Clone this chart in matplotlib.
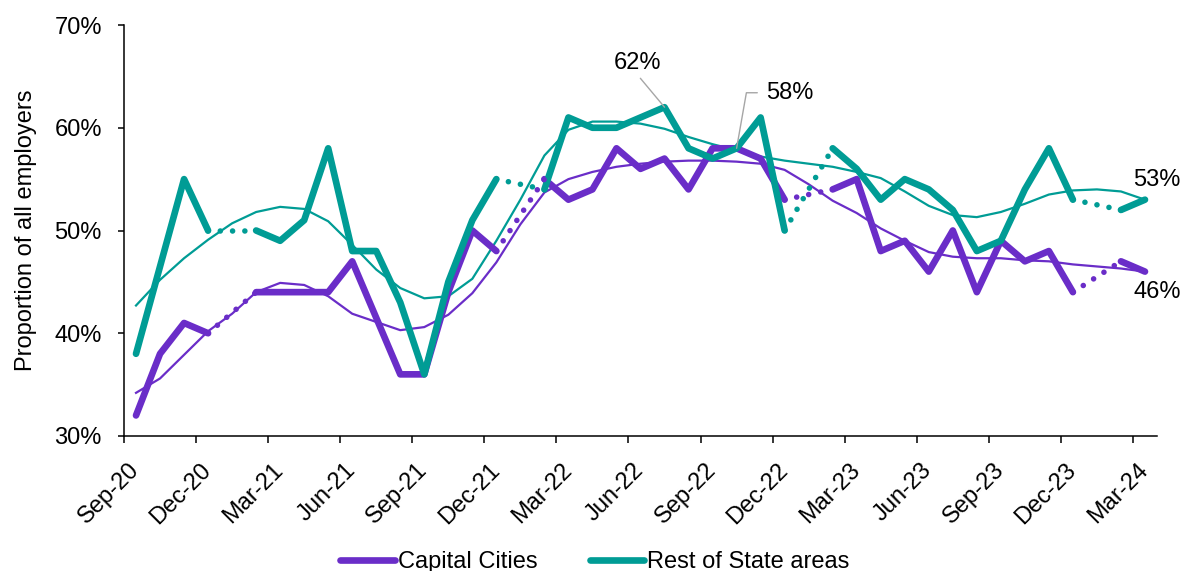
import numpy as np
import pandas as pd
import matplotlib
matplotlib.use("Agg")
import matplotlib.pyplot as plt

# months Sep-20 .. Mar-24
months = pd.date_range("2020-09-01", periods=43, freq="MS").strftime("%b-%y").tolist()

nan = np.nan
# monthly share of employers (%), January not surveyed
capital = [32, 38, 41, 40, nan, 44, 44, 44, 44, 47, 41.5, 36, 36, 44, 50, 48,
           nan, 55, 53, 54, 58, 56, 57, 54, 58, 58, 57, 53,
           nan, 54, 55, 48, 49, 46, 50, 44, 49, 47, 48, 44,
           nan, 47, 46]
rest = [38, 46.5, 55, 50, nan, 50, 49, 51, 58, 48, 48, 43, 36, 45, 51, 55,
        nan, 54, 61, 60, 60, 61, 62, 58, 57, 58, 61, 50,
        nan, 58, 56, 53, 55, 54, 52, 48, 49, 54, 58, 53,
        nan, 52, 53]

# trend lines
capital_trend = [34.2, 35.6, 37.9, 40.2, 41.9, 44.0, 44.9, 44.7, 43.6, 41.9, 41.1,
                 40.3, 40.6, 41.8, 43.9, 46.9, 50.6, 53.7, 55.0, 55.7, 56.2, 56.5,
                 56.7, 56.8, 56.8, 56.7, 56.5, 55.9, 54.5, 52.9, 51.7, 50.2, 49.0,
                 47.9, 47.45, 47.3, 47.3, 47.1, 47.0, 46.7, 46.5, 46.3, 46.0]
rest_trend = [42.7, 45.2, 47.3, 49.1, 50.7, 51.8, 52.3, 52.1, 50.9, 48.6, 46.2,
              44.4, 43.4, 43.6, 45.3, 49.0, 53.0, 57.3, 59.8, 60.6, 60.6, 60.4,
              59.9, 59.1, 58.4, 57.8, 57.2, 56.8, 56.5, 56.2, 55.7, 55.1, 53.8,
              52.4, 51.5, 51.3, 51.8, 52.6, 53.5, 53.9, 54.0, 53.8, 53.0]

purple = "#6A2DC8"
teal = "#009C95"
grey = "#A6A6A6"

plt.rcParams["font.family"] = ["Liberation Sans", "DejaVu Sans"]
plt.rcParams["font.size"] = 17

fig = plt.figure(figsize=(11.83, 5.71), dpi=100)
ax = fig.add_axes([124 / 1183, 1 - 436 / 571, 1033 / 1183, 411 / 571])

x = np.arange(len(months))


def gap_segments(vals):
    v = np.array(vals, dtype=float)
    out = []
    for i in np.where(np.isnan(v))[0]:
        out.append(([x[i - 1], x[i + 1]], [v[i - 1], v[i + 1]]))
    return out


ax.plot(x, capital_trend, color=purple, lw=1.6)
ax.plot(x, rest_trend, color=teal, lw=1.6)
l1, = ax.plot(x, capital, color=purple, lw=4.8, solid_capstyle="round")
l2, = ax.plot(x, rest, color=teal, lw=4.8, solid_capstyle="round")
for vals, c in [(capital, purple), (rest, teal)]:
    for xs, ys in gap_segments(vals):
        ax.plot(xs, ys, color=c, lw=4, linestyle=(0, (0.01, 2.2)),
                dash_capstyle="round")

ax.set_xlim(-0.5, len(months) - 0.5)
ax.set_ylim(30, 70)

ax.set_yticks(range(30, 71, 10))
ax.set_yticklabels([f"{v}%" for v in range(30, 71, 10)])
ax.tick_params(axis="y", length=4.5, width=1.1, pad=11.5)

ax.set_xticks(x[::3])
ax.set_xticklabels(months[::3])
ax.set_xticks(x[::3] - 0.5, minor=True)
ax.tick_params(axis="x", which="major", length=0, pad=22)
ax.tick_params(axis="x", which="minor", length=5, width=1.1)
for t in ax.get_xticklabels():
    t.set_rotation(45)
    t.set_ha("right")
    t.set_va("center")
    t.set_rotation_mode("anchor")

for s in ["top", "right"]:
    ax.spines[s].set_visible(False)
for s in ["left", "bottom"]:
    ax.spines[s].set_linewidth(1.1)

ax.set_ylabel("Proportion of all employers", va="center")
ax.yaxis.set_label_coords(-0.095, 0.5)

# callouts
ax.annotate("62%", xy=(22, rest[22]), xytext=(-19.7, 31.5), textcoords="offset points",
            ha="center", va="center",
            arrowprops=dict(arrowstyle="-", color=grey, lw=1, relpos=(0.5, 0),
                            shrinkA=1, shrinkB=0))
ax.annotate("58%", xy=(25, rest[25]), xytext=(20.9, 40), textcoords="offset points",
            ha="left", va="center",
            arrowprops=dict(arrowstyle="-", color=grey, lw=1, relpos=(0, 0.5),
                            shrinkA=4, shrinkB=0,
                            connectionstyle="angle,angleA=180,angleB=80,rad=0"))
ax.annotate("53%", xy=(42, rest[42]), xytext=(-8.4, 14.2), textcoords="offset points",
            ha="left", va="center", annotation_clip=False)
ax.annotate("46%", xy=(42, capital[42]), xytext=(-8.4, -14.7), textcoords="offset points",
            ha="left", va="center", annotation_clip=False)

fig.legend([l1, l2], ["Capital Cities", "Rest of State areas"], loc="center",
           bbox_to_anchor=(0.503, 1 - 562 / 571), ncol=2, frameon=False,
           handlelength=2.3, handletextpad=0.15, columnspacing=2.2)

fig.savefig("out.png", dpi=100)
